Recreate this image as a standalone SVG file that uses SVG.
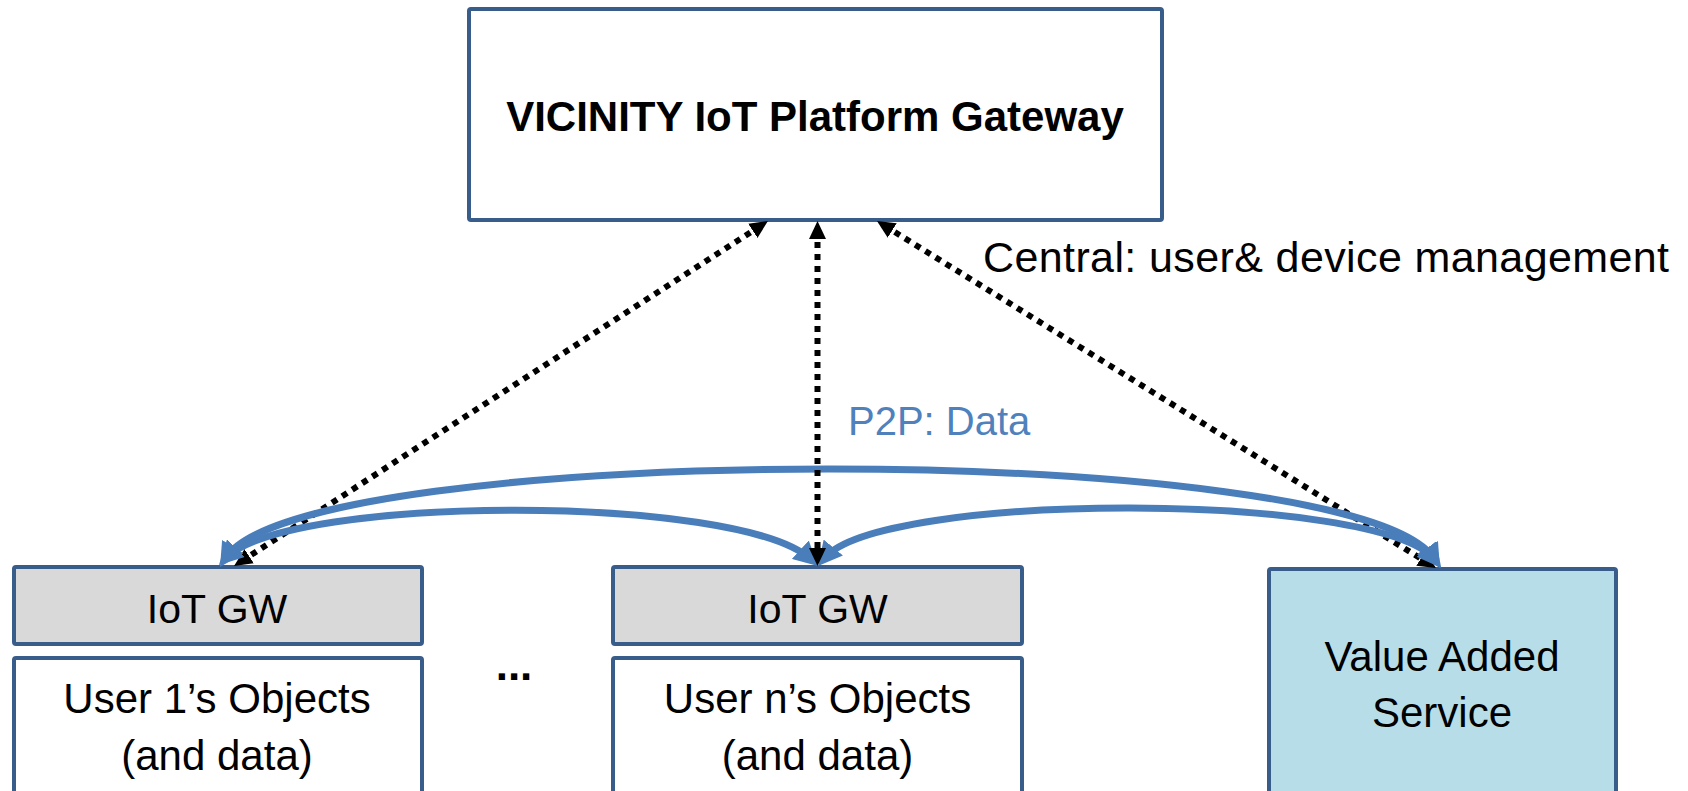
<svg xmlns="http://www.w3.org/2000/svg" width="1688" height="791" viewBox="0 0 1688 791">
<style>
.box{stroke:#385D8A;stroke-width:4}
.t{font-family:"Liberation Sans",Arial,sans-serif;font-size:42px;fill:#000;text-anchor:middle}
.dot{fill:none;stroke:#000;stroke-width:6;stroke-dasharray:6 6}
.p2p{fill:none;stroke:#4A7EBB;stroke-width:7}
</style>
<defs>
<marker id="ah-black" viewBox="0 0 18 17" refX="9" refY="8.5" markerWidth="18" markerHeight="17" markerUnits="userSpaceOnUse" orient="auto-start-reverse">
<path d="M0,0 L18,8.5 L0,17 z" fill="#000"/>
</marker>
<marker id="ah-blue" viewBox="0 0 24 25" refX="14" refY="12.5" markerWidth="24" markerHeight="25" markerUnits="userSpaceOnUse" orient="auto-start-reverse">
<path d="M0,0 L24,12.5 L0,25 z" fill="#4A7EBB"/>
</marker>
</defs>
<rect width="1688" height="791" fill="#fff"/>
<g id="platform-gateway">
<rect class="box" x="469" y="9" width="693" height="211" rx="2" fill="#fff"/>
<text class="t" x="815" y="131" font-weight="bold">VICINITY IoT Platform Gateway</text>
</g>
<g id="iot-gw-1">
<rect class="box" x="14" y="567" width="408" height="77" rx="2" fill="#D9D9D9"/>
<text class="t" x="217" y="623" style="font-size:41px">IoT GW</text>
</g>
<g id="user1-objects">
<rect class="box" x="14" y="658" width="408" height="150" rx="2" fill="#fff"/>
<text class="t" x="217" y="713">User 1’s Objects</text>
<text class="t" x="217" y="770">(and data)</text>
</g>
<g id="ellipsis">
<text class="t" x="514" y="680" font-weight="bold" style="font-size:44px">...</text>
</g>
<g id="iot-gw-n">
<rect class="box" x="613" y="567" width="409" height="77" rx="2" fill="#D9D9D9"/>
<text class="t" x="817.5" y="623" style="font-size:41px">IoT GW</text>
</g>
<g id="usern-objects">
<rect class="box" x="613" y="658" width="409" height="150" rx="2" fill="#fff"/>
<text class="t" x="817.5" y="713">User n’s Objects</text>
<text class="t" x="817.5" y="770">(and data)</text>
</g>
<g id="value-added-service">
<rect class="box" x="1269" y="569" width="347" height="240" rx="2" fill="#B7DEE8"/>
<text class="t" x="1442" y="671">Value Added</text>
<text class="t" x="1442" y="727">Service</text>
</g>
<g id="labels">
<text x="983" y="272" style="font-family:'Liberation Sans',Arial,sans-serif;font-size:43px;fill:#000" textLength="686">Central: user&amp; device management</text>
<text x="848" y="435" style="font-family:'Liberation Sans',Arial,sans-serif;font-size:40px;fill:#4F81BD">P2P: Data</text>
</g>
<g id="connectors">
<path class="dot" d="M760.4,225.9 L241.6,561.1" marker-start="url(#ah-black)" marker-end="url(#ah-black)"/>
<path class="dot" d="M884.6,225.7 L1428.4,563.3" marker-start="url(#ah-black)" marker-end="url(#ah-black)"/>
<path class="p2p" d="M225.3,558.5 C300,439 1360,439 1434.7,559.5" marker-start="url(#ah-blue)" marker-end="url(#ah-blue)"/>
<path class="p2p" d="M226,558 C290,494 740,494 810.6,559.2" marker-start="url(#ah-blue)" marker-end="url(#ah-blue)"/>
<path class="p2p" d="M824.4,558.3 C880,491 1380,491 1435,560" marker-start="url(#ah-blue)" marker-end="url(#ah-blue)"/>
<path class="dot" d="M817.5,230 L817.5,557" marker-start="url(#ah-black)" marker-end="url(#ah-black)"/>
</g>
</svg>
